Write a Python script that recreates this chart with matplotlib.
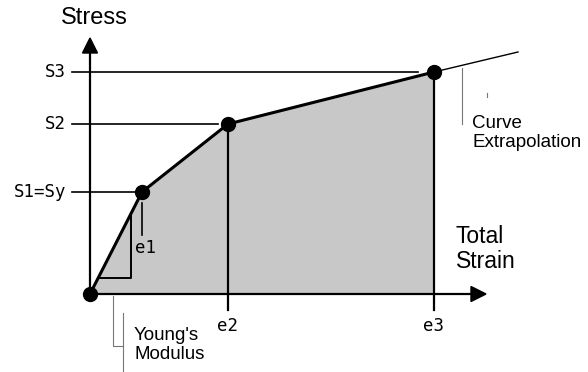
import matplotlib
matplotlib.use("Agg")
import matplotlib.pyplot as plt
from matplotlib.patches import Polygon, FancyArrow

# Data (arbitrary units)
strain = [0, 52, 138, 344]          # 0, e1, e2, e3
stress = [0, 102, 170, 222]         # 0, S1=Sy, S2, S3
extrap_strain = [344, 428]
extrap_stress = [222, 242]
strain_labels = ["e1", "e2", "e3"]
stress_labels = ["S1=Sy", "S2", "S3"]

fig = plt.figure(figsize=(5.88, 3.72), dpi=100)
ax = fig.add_axes([0, 0, 1, 1])
ax.set_xlim(-90, 498)
ax.set_ylim(-78, 294)
ax.axis("off")

# filled area under curve
poly = Polygon(list(zip(strain, stress)) + [(strain[-1], 0)], closed=True,
               facecolor="#c8c8c8", edgecolor="none", zorder=1)
ax.add_patch(poly)

# axes with arrows
ax.plot([0, 0], [0, 240], color="black", lw=1.6, zorder=3)
ax.add_patch(FancyArrow(0, 236, 0, 20, width=0, head_width=15, head_length=15,
                        length_includes_head=True, color="black", zorder=3))
ax.plot([0, 382], [0, 0], color="black", lw=1.6, zorder=3)
ax.add_patch(FancyArrow(378, 0, 18, 0, width=0, head_width=15, head_length=15,
                        length_includes_head=True, color="black", zorder=3))

# horizontal guides to stress levels
guide_end = [48, 128, 328]
for s, lab, xe in zip(stress[1:], stress_labels, guide_end):
    ax.plot([-18, xe], [s, s], color="black", lw=1.2, zorder=2)
    ax.text(-24, s, lab, ha="right", va="center", fontsize=12.5,
            family="DejaVu Sans Mono")

# e1 tick and verticals for e2, e3
ax.plot([strain[1], strain[1]], [91, 59], color="black", lw=1.2, zorder=2)
ax.text(strain[1] - 7, 46, strain_labels[0], ha="left", va="center", fontsize=12.5,
        family="DejaVu Sans Mono")
for e, s, lab in zip(strain[2:], stress[2:], strain_labels[1:]):
    ax.plot([e, e], [s, -16], color="black", lw=1.6, zorder=2)
    ax.text(e, -32, lab, ha="center", va="center", fontsize=12.5,
            family="DejaVu Sans Mono")

# extrapolation line
ax.plot(extrap_strain, extrap_stress, color="black", lw=1.0, zorder=2)

# curve
ax.plot(strain, stress, color="black", lw=2.2, zorder=4)
ax.plot(strain, stress, "o", color="black", markersize=10, zorder=5)

# Young's modulus triangle
ax.plot([10, 41, 41], [16, 16, 81], color="black", lw=1.4, zorder=3)

# Young's modulus leader
ax.plot([23, 23, 33], [-2, -52, -52], color="#777777", lw=0.8, zorder=2)
ax.plot([33, 33], [-19, -80], color="#777777", lw=0.8, zorder=2)
ax.text(44, -51, "Young's\nModulus", ha="left", va="center", fontsize=13.5,
        family="Liberation Sans", linespacing=1.1)

# Curve extrapolation leader
ax.plot([372, 372], [226, 170], color="#777777", lw=0.8, zorder=2)
ax.plot([397, 397], [201, 197], color="#777777", lw=0.8, zorder=2)
ax.text(382, 161, "Curve\nExtrapolation", ha="left", va="center", fontsize=13.5,
        family="Liberation Sans", linespacing=1.1)

# axis titles
ax.text(4, 276, "Stress", ha="center", va="center", fontsize=17,
        family="Liberation Sans")
ax.text(366, 45, "Total\nStrain", ha="left", va="center", fontsize=16.5,
        family="Liberation Sans", linespacing=1.15)

fig.savefig("out.png", dpi=100)
